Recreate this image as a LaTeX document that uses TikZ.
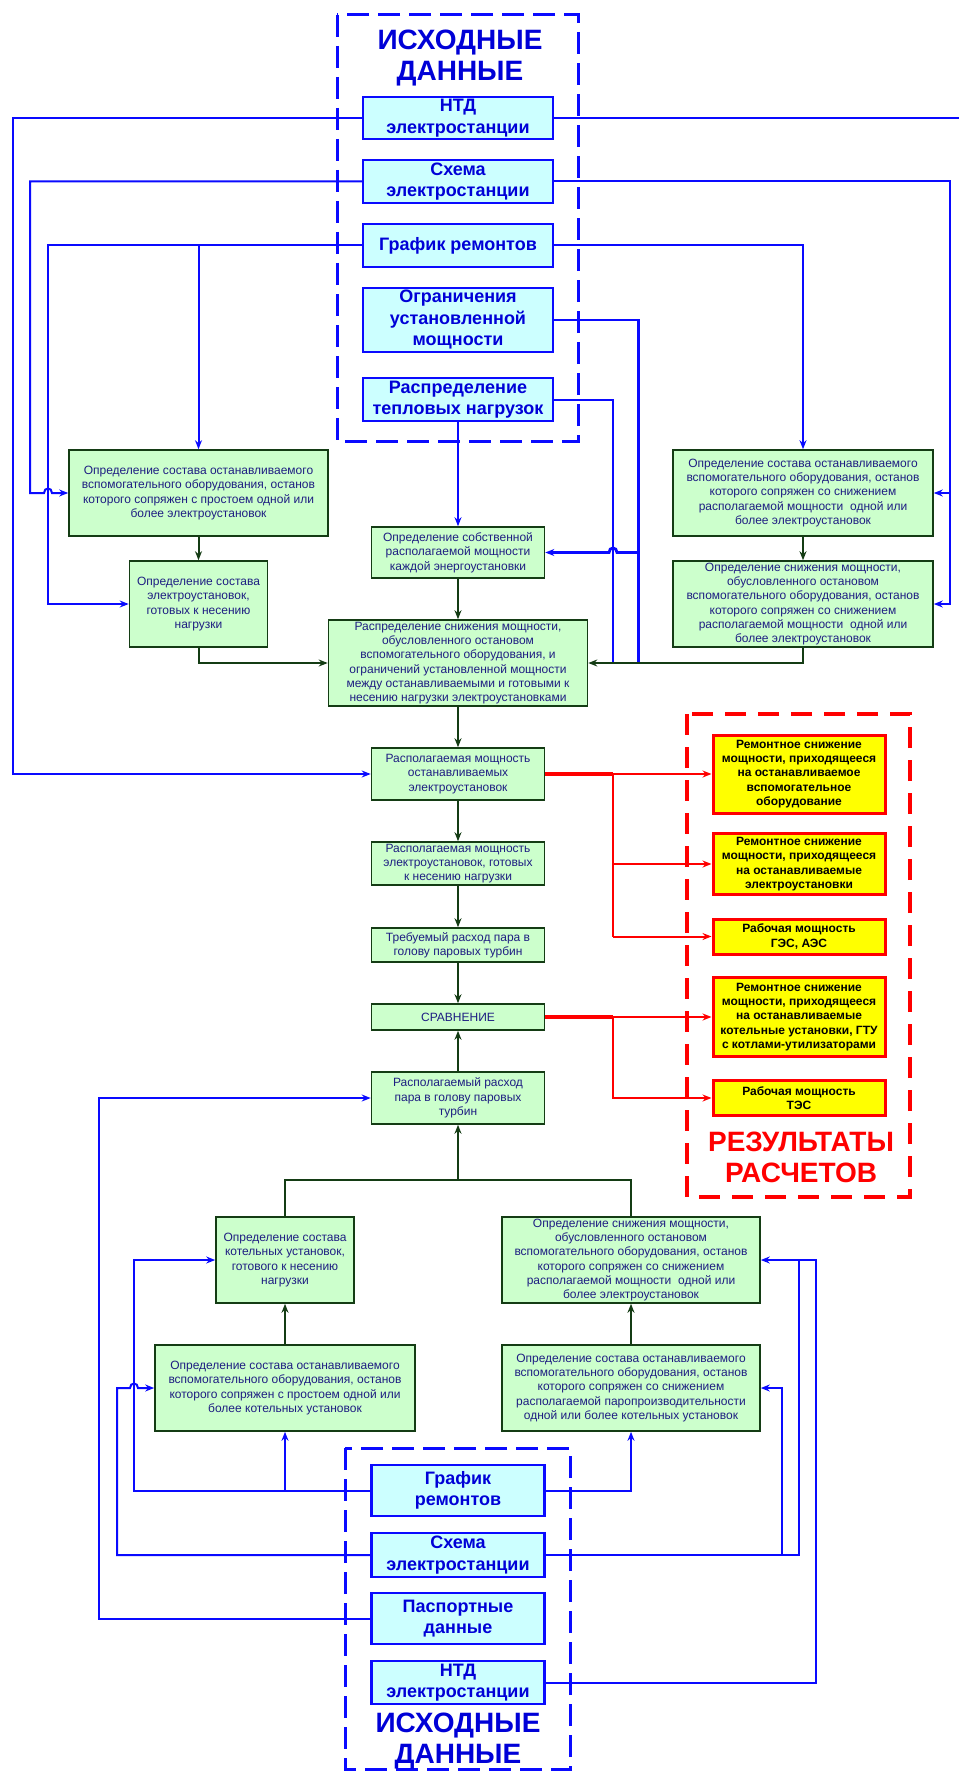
\documentclass[tikz,border=0pt]{standalone}
\usepackage{fontspec}
\setmainfont{Liberation Sans}
\usetikzlibrary{arrows.meta}
\definecolor{cyfill}{RGB}{204,255,255}
\definecolor{bl}{RGB}{10,10,255}
\definecolor{cytext}{RGB}{0,0,215}
\definecolor{gfill}{RGB}{204,255,204}
\definecolor{gdark}{RGB}{20,60,20}
\definecolor{gtext}{RGB}{30,30,130}
\definecolor{rd}{RGB}{255,0,0}
\definecolor{yl}{RGB}{255,255,0}
\begin{document}
\begin{tikzpicture}[x=1pt,y=-1pt,
  cy/.style={draw=bl, fill=cyfill, line width=2.5pt, text=cytext, font=\fontsize{18}{21.5}\selectfont\bfseries, align=center, inner sep=0pt},
  gb/.style={draw=gdark, fill=gfill, line width=1.6pt, text=gtext, font=\fontsize{12}{14.3}\selectfont, align=center, inner sep=0pt},
  yb/.style={draw=rd, fill=yl, line width=3pt, text=black, font=\fontsize{12}{14.3}\selectfont\bfseries, align=center, inner sep=0pt},
  bline/.style={draw=bl, line width=2pt},
  barr/.style={bline, -{Stealth[length=9pt,width=7pt]}},
  gline/.style={draw=gdark, line width=2pt},
  garr/.style={gline, -{Stealth[length=9pt,width=7pt]}},
  rline/.style={draw=rd, line width=2pt},
  rarr/.style={rline, -{Stealth[length=9pt,width=7pt]}},
  bdash/.style={draw=bl, line width=3pt, dash pattern=on 22pt off 9pt},
  rdash/.style={draw=rd, line width=3.5pt, dash pattern=on 21pt off 12pt},
  ttl/.style={text=cytext, font=\fontsize{28}{31}\selectfont\bfseries, align=center, inner sep=0pt},
  rttl/.style={text=rd, font=\fontsize{28}{31}\selectfont\bfseries, align=center, inner sep=0pt}
]
\useasboundingbox (0,0) rectangle (959,1771);
\fill[white] (0,0) rectangle (959,1771);

% dashed frames
\draw[bdash] (337,15) rectangle (578,441);
\draw[bdash] (345,1448) rectangle (570,1769);
\draw[rdash] (687,714) rectangle (910,1197);

% titles
\node[ttl] (t1) at (460,58.5) {ИСХОДНЫЕ\\ДАННЫЕ};
\node[ttl] (t2) at (458,1741) {ИСХОДНЫЕ\\ДАННЫЕ};
\node[rttl] (t3) at (801,1157) {РЕЗУЛЬТАТЫ\\РАСЧЕТОВ};

% top input boxes
\node[cy, minimum width=190pt, minimum height=42pt] (ntdT) at (458,118) {НТД\\электростанции};
\node[cy, minimum width=190pt, minimum height=43pt] (shT) at (458,181.5) {Схема\\электростанции};
\node[cy, minimum width=190pt, minimum height=43pt] (grT) at (458,245.5) {График ремонтов};
\node[cy, minimum width=190pt, minimum height=64pt] (ogT) at (458,320) {Ограничения\\установленной\\мощности};
\node[cy, minimum width=190pt, minimum height=43pt] (rtT) at (458,399.5) {Распределение\\тепловых нагрузок};

% upper green boxes
\node[gb, minimum width=259pt, minimum height=86pt] (L1) at (198.5,493) {Определение состава останавливаемого\\вспомогательного оборудования, останов\\которого сопряжен с простоем одной или\\более электроустановок};
\node[gb, minimum width=138pt, minimum height=86pt] (L2) at (198.5,604) {Определение состава\\электроустановок,\\готовых к несению\\нагрузки};
\node[gb, minimum width=173pt, minimum height=51pt] (M1) at (458,552.5) {Определение собственной\\располагаемой мощности\\каждой энергоустановки};
\node[gb, minimum width=259pt, minimum height=86pt] (BIG) at (458,663) {Распределение снижения мощности,\\обусловленного остановом\\вспомогательного оборудования, и\\ограничений установленной мощности\\между останавливаемыми и готовыми к\\несению нагрузки электроустановками};
\node[gb, minimum width=260pt, minimum height=86pt] (R1) at (803,493) {Определение состава останавливаемого\\вспомогательного оборудования, останов\\которого сопряжен со снижением\\располагаемой мощности\ \ одной или\\более электроустановок};
\node[gb, minimum width=260pt, minimum height=86pt] (R2) at (803,604) {Определение снижения мощности,\\обусловленного остановом\\вспомогательного оборудования, останов\\которого сопряжен со снижением\\располагаемой мощности\ \ одной или\\более электроустановок};

% centre column
\node[gb, minimum width=173pt, minimum height=52pt] (C1) at (458,774) {Располагаемая мощность\\останавливаемых\\электроустановок};
\node[gb, minimum width=173pt, minimum height=43pt] (C2) at (458,863.5) {Располагаемая мощность\\электроустановок, готовых\\к несению нагрузки};
\node[gb, minimum width=173pt, minimum height=34pt] (C3) at (458,945) {Требуемый расход пара в\\голову паровых турбин};
\node[gb, minimum width=173pt, minimum height=26pt] (C4) at (458,1017) {СРАВНЕНИЕ};
\node[gb, minimum width=173pt, minimum height=52pt] (C5) at (458,1098) {Располагаемый расход\\пара в голову паровых\\турбин};

% results
\node[yb, minimum width=172pt, minimum height=78pt] (Y1) at (799,774) {Ремонтное снижение\\мощности, приходящееся\\на останавливаемое\\вспомогательное\\оборудование};
\node[yb, minimum width=172pt, minimum height=61pt] (Y2) at (799,864) {Ремонтное снижение\\мощности, приходящееся\\на останавливаемые\\электроустановки};
\node[yb, minimum width=172pt, minimum height=35pt] (Y3) at (799,936.5) {Рабочая мощность\\ГЭС, АЭС};
\node[yb, minimum width=172pt, minimum height=79pt] (Y4) at (799,1017) {Ремонтное снижение\\мощности, приходящееся\\на останавливаемые\\котельные установки, ГТУ\\с котлами-утилизаторами};
\node[yb, minimum width=172pt, minimum height=35pt] (Y5) at (799,1098) {Рабочая мощность\\ТЭС};

% lower green boxes
\node[gb, minimum width=138pt, minimum height=86pt] (LB1) at (285,1260) {Определение состава\\котельных установок,\\готового к несению\\нагрузки};
\node[gb, minimum width=258pt, minimum height=86pt] (RB1) at (631,1260) {Определение снижения мощности,\\обусловленного остановом\\вспомогательного оборудования, останов\\которого сопряжен со снижением\\располагаемой мощности\ \ одной или\\более электроустановок};
\node[gb, minimum width=260pt, minimum height=86pt] (LB2) at (285,1388) {Определение состава останавливаемого\\вспомогательного оборудования, останов\\которого сопряжен с простоем одной или\\более котельных установок};
\node[gb, minimum width=258pt, minimum height=86pt] (RB2) at (631,1388) {Определение состава останавливаемого\\вспомогательного оборудования, останов\\которого сопряжен со снижением\\располагаемой паропроизводительности\\одной или более котельных установок};

% bottom input boxes
\node[cy, minimum width=173pt, minimum height=51pt] (grB) at (458,1490.5) {График\\ремонтов};
\node[cy, minimum width=173pt, minimum height=44pt] (shB) at (458,1555) {Схема\\электростанции};
\node[cy, minimum width=173pt, minimum height=51pt] (paB) at (458,1618.5) {Паспортные\\данные};
\node[cy, minimum width=173pt, minimum height=43pt] (ntB) at (458,1682.5) {НТД\\электростанции};

\coordinate (edgeR) at (959,118);

% ---- blue connectors, top
\draw[barr, line width=2.8pt] (ntdT.west) -- (13,118) -- (13,774) -- (C1.west);
\draw[bline] (ntdT.east) -- (edgeR);
\draw[barr] (shT.west) -- (30,181.5) -- (30,493) -- (44,493) .. controls (44,487) and (52,487) .. (52,493) -- (L1.west);
\draw[barr] (shT.east) -- (950,181.5) -- (950,604) -- (R2.east);
\draw[barr] (950,493) -- (R1.east);
\draw[barr] (grT.west) -- (48,245.5) -- (48,604) -- (L2.west);
\draw[barr] (198.5,245.5) -- (L1.north);
\draw[barr] (grT.east) -- (803,245.5) -- (R1.north);
\draw[bline, line width=2.6pt] (ogT.east) -- (638.5,320) -- (638.5,663);
\draw[barr, line width=2.8pt] (638.5,552.5) -- (617,552.5) .. controls (617,546.5) and (609,546.5) .. (609,552.5) -- (M1.east);
\draw[bline] (rtT.east) -- (613,399.5) -- (613,663);
\draw[barr] (rtT.south) -- (M1.north);

% ---- green connectors, top
\draw[garr] (L1.south) -- (L2.north);
\draw[garr] (L2.south) -- (198.5,663) -- (BIG.west);
\draw[garr] (M1.south) -- (BIG.north);
\draw[garr] (R1.south) -- (R2.north);
\draw[garr] (R2.south) -- (803,663) -- (BIG.east);
\draw[garr] (BIG.south) -- (C1.north);
\draw[garr] (C1.south) -- (C2.north);
\draw[garr] (C2.south) -- (C3.north);
\draw[garr] (C3.south) -- (C4.north);
\draw[garr] (C5.north) -- (C4.south);

% ---- red connectors
\draw[rline, line width=3.2pt] (C1.east) -- (613,774);
\draw[rarr] (613,774) -- (Y1.west);
\draw[rline] (613,774) -- (613,936.5);
\draw[rarr] (613,864) -- (Y2.west);
\draw[rarr] (613,936.5) -- (Y3.west);
\draw[rline, line width=3.2pt] (C4.east) -- (613,1017);
\draw[rarr] (613,1017) -- (Y4.west);
\draw[rarr] (613,1017) -- (613,1098) -- (Y5.west);

% ---- green connectors, bottom
\draw[gline] (LB1.north) -- (285,1180) -- (631,1180) -- (RB1.north);
\draw[garr] (458,1180) -- (C5.south);
\draw[garr] (LB2.north) -- (LB1.south);
\draw[garr] (RB2.north) -- (RB1.south);

% ---- blue connectors, bottom
\draw[barr] (grB.west) -- (134,1490.5) -- (134,1260) -- (LB1.west);
\draw[barr] (285,1490.5) -- (LB2.south);
\draw[barr] (grB.east) -- (631,1490.5) -- (RB2.south);
\draw[barr] (shB.west) -- (117,1555) -- (117,1388) -- (130,1388) .. controls (130,1382) and (138,1382) .. (138,1388) -- (LB2.west);
\draw[bline] (shB.east) -- (799,1555) -- (799,1260);
\draw[barr] (782,1555) -- (782,1388) -- (RB2.east);
\draw[barr] (ntB.east) -- (816,1682.5) -- (816,1260) -- (RB1.east);
\draw[barr] (paB.west) -- (99,1618.5) -- (99,1098) -- (C5.west);
\end{tikzpicture}
\end{document}
